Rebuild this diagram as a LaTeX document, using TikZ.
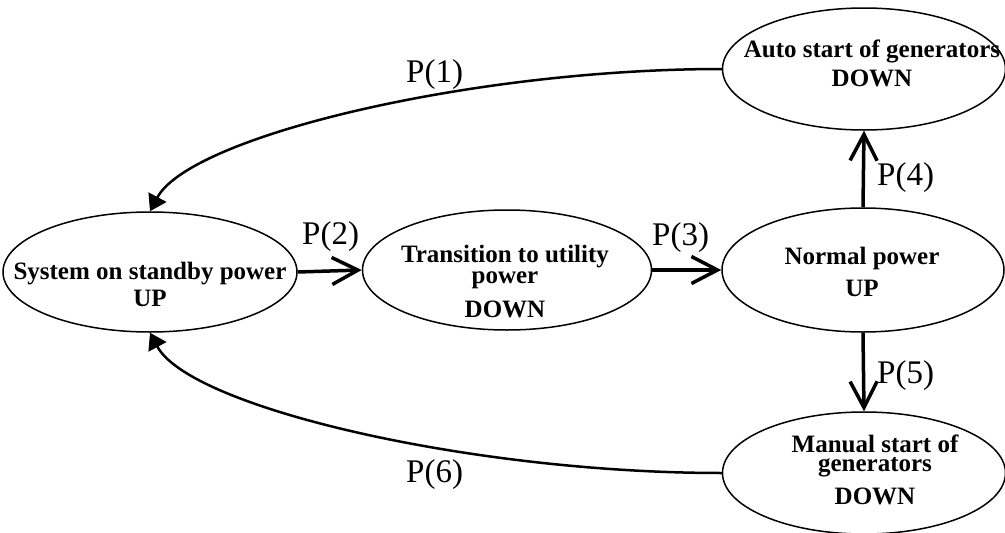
\documentclass[tikz,border=0pt]{standalone}
\usepackage{fontspec}
\setmainfont{Liberation Serif}
\usetikzlibrary{shapes.geometric, arrows.meta}

\begin{document}
\begin{tikzpicture}[x=1pt, y=-1pt,
  state/.style={ellipse, draw, line width=1.5pt, inner sep=0pt},
  statetext/.style={align=center, font=\bfseries\fontsize{25}{30}\selectfont},
  plabel/.style={anchor=base west, inner sep=0pt, font=\fontsize{33}{36}\selectfont},
  arrow/.style={-{Straight Barb[length=26pt, width=27pt]}, line width=3.5pt},
  curvearrow/.style={-{Triangle[length=16pt, width=20pt]}, line width=2.5pt}
]
\useasboundingbox (0,0) rectangle (1005,533);

\node[state, minimum width=294pt, minimum height=120pt] (standby) at (150,272) {};
\node[state, minimum width=289pt, minimum height=120pt] (trans) at (507,270) {};
\node[state, minimum width=282pt, minimum height=124pt] (normal) at (863,270) {};
\node[state, minimum width=283pt, minimum height=122pt] (auto) at (864,69) {};
\node[state, minimum width=283pt, minimum height=122pt] (manual) at (864,473) {};

\node[statetext] (standbytxt) at (150,284) {System on standby power\\[-3pt] UP};
\node[statetext] (transtxt) at (505,282) {Transition to utility\\[-9pt] power\\[4pt] DOWN};
\node[statetext] (normaltxt) at (862,272) {Normal power\\[2pt] UP};
\node[statetext] (autotxt) at (872,63) {Auto start of generators\\[-1pt] DOWN};
\node[statetext] (manualtxt) at (875,470) {Manual start of\\[-11pt] generators\\[3pt] DOWN};

\draw[curvearrow] (auto.west) .. controls +(-250,0) and +(40,-75) .. (standby.north);
\draw[arrow] (standby.east) -- (trans.west);
\draw[arrow] (trans.east) -- (normal.west);
\draw[arrow] (normal.north) -- (auto.south);
\draw[arrow] (normal.south) -- (manual.north);
\draw[curvearrow] (manual.west) .. controls +(-250,0) and +(40,75) .. (standby.south);

\node[plabel] (p1) at (406,82) {P(1)};
\node[plabel] (p2) at (302,244) {P(2)};
\node[plabel] (p3) at (652,245) {P(3)};
\node[plabel] (p4) at (877,185) {P(4)};
\node[plabel] (p5) at (877,383) {P(5)};
\node[plabel] (p6) at (406,482) {P(6)};
\end{tikzpicture}
\end{document}
